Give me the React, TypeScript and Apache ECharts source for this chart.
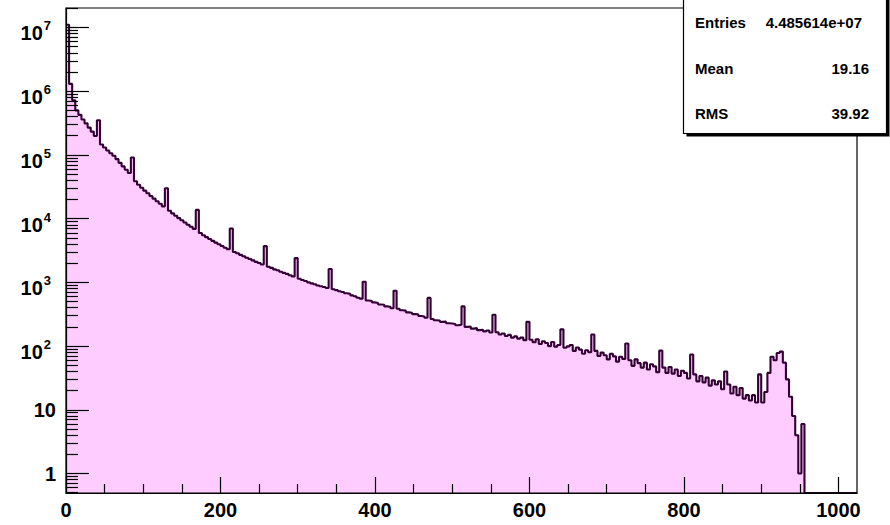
import React, { useEffect, useRef } from "react";
import * as echarts from "echarts";

// ---- data ----
const X_MIN = 0;
const X_MAX = 1024;
const BIN_WIDTH = 4;
const Y_LOG_MIN = -0.305; // ~0.5
const Y_LOG_MAX = 7.305; // ~2e7

// counts per bin (bin i covers [4i, 4i+4))
const counts = [
  11000000, 1300000, 720000, 500000, 425000, 360000, 312000, 268000, 232000, 198000,
  350000, 146000, 131000, 117000, 106000, 97000, 86000, 75000, 66000, 58500,
  52000, 91000, 38500, 34000, 30500, 27500, 25000, 22700, 20600, 18700,
  17100, 15600, 30000, 13300, 12100, 11100, 10200, 9450, 8700, 8000,
  7450, 6900, 13700, 5950, 5500, 5120, 4800, 4480, 4200, 3960,
  3720, 3500, 3310, 7000, 3000, 2860, 2700, 2570, 2430, 2330,
  2210, 2100, 2010, 1910, 3700, 1760, 1690, 1600, 1550, 1470,
  1410, 1360, 1290, 1240, 2400, 1140, 1090, 1050, 1000, 965,
  935, 895, 870, 845, 815, 1620, 780, 755, 725, 705,
  675, 660, 625, 605, 575, 555, 1020, 520, 510, 485,
  475, 450, 445, 420, 415, 392, 740, 385, 365, 360,
  338, 334, 318, 315, 296, 292, 278, 570, 266, 255,
  252, 240, 242, 228, 226, 222, 212, 216, 420, 200,
  203, 188, 192, 178, 181, 170, 176, 163, 310, 165,
  152, 158, 144, 150, 136, 142, 131, 136, 124, 240,
  126, 115, 128, 108, 119, 112, 100, 116, 98, 104,
  183, 94, 99, 104, 84, 95, 88, 76, 86, 80,
  152, 84, 70, 79, 72, 62, 76, 69, 57, 68,
  63, 110, 60, 49, 62, 54, 46, 55, 43, 52,
  48, 39, 85, 46, 38, 47, 37, 43, 34, 41,
  38, 31, 74, 36, 28, 34, 27, 32, 24, 29,
  25, 28, 21, 40, 25, 18, 23, 17, 22, 15,
  17, 14, 17, 13, 36, 13, 19, 38, 68, 60,
  78, 82, 55, 30, 16, 8, 4, 1, 6, 0,
  0, 0, 0, 0, 0, 0, 0, 0, 0, 0, 0, 0, 0, 0, 0, 0,
];

const xMajorTicks = [0, 200, 400, 600, 800, 1000];
const xMinorTicks = [50, 100, 150, 250, 300, 350, 450, 500, 550, 650, 700, 750, 850, 900, 950];
const yMajorExponents = [0, 1, 2, 3, 4, 5, 6, 7];
const yMinorMultipliers = [2, 3, 4, 5, 6, 7, 8, 9];
const yMinorExponents = [-1, 0, 1, 2, 3, 4, 5, 6, 7];

const statsNames = ["Entries", "Mean", "RMS"];
const statsValues = ["4.485614e+07", "19.16", "39.92"];

const FONT = "'Liberation Sans', Arial, Helvetica, sans-serif";

export default function App() {
  const ref = useRef<HTMLDivElement>(null);

  useEffect(() => {
    if (!ref.current) return;
    const chart = echarts.init(ref.current, undefined, { renderer: "svg" });

    const pts: number[][] = counts.map((c, i) => [
      X_MIN + i * BIN_WIDTH,
      c > 0 ? Math.log10(c) : Y_LOG_MIN,
    ]);
    const last = pts[pts.length - 1][1];
    pts.push([X_MAX, last]);

    const yMinor: number[] = [];
    yMinorExponents.forEach((e) => {
      yMinorMultipliers.forEach((m) => {
        const v = Math.log10(m) + e;
        if (v >= Y_LOG_MIN && v <= Y_LOG_MAX) yMinor.push(v);
      });
    });

    const statsRowsY = [22.5, 68.3, 113.3];
    const statsValueRight = [862, 869, 869];

    const graphics: any[] = [
      {
        type: "rect",
        shape: { x: 686.5, y: 0, width: 203, height: 136.5 },
        style: { fill: "#000" },
        z: 100,
      },
      {
        type: "rect",
        shape: { x: 683.5, y: -3, width: 203, height: 136.5 },
        style: { fill: "#fff", stroke: "#000", lineWidth: 1.2 },
        z: 101,
      },
    ];
    statsNames.forEach((n, i) => {
      graphics.push({
        type: "text",
        x: 695,
        y: statsRowsY[i],
        z: 102,
        style: {
          text: n,
          fill: "#000",
          font: `bold 15px ${FONT}`,
          textAlign: "left",
          textVerticalAlign: "middle",
        },
      });
      graphics.push({
        type: "text",
        x: statsValueRight[i],
        y: statsRowsY[i],
        z: 102,
        style: {
          text: statsValues[i],
          fill: "#000",
          font: `bold 15px ${FONT}`,
          textAlign: "right",
          textVerticalAlign: "middle",
        },
      });
    });

    const tickLine = { color: "#000", width: 1.2 };

    const option: any = {
      animation: false,
      backgroundColor: "#fff",
      grid: {
        left: 66,
        right: 33,
        top: 8,
        bottom: 32,
        show: true,
        borderColor: "#000",
        borderWidth: 1.2,
        backgroundColor: "transparent",
        z: 5,
        outerBoundsMode: "none",
      },
      xAxis: [
        {
          type: "value",
          min: X_MIN,
          max: X_MAX,
          position: "bottom",
          z: 6,
          splitLine: { show: false },
          axisLine: { show: true, onZero: false, lineStyle: tickLine },
          axisTick: {
            show: true,
            inside: true,
            length: 16,
            customValues: xMajorTicks,
            lineStyle: tickLine,
          },
          axisLabel: {
            customValues: xMajorTicks,
            formatter: (v: number) => String(Math.round(v)),
            margin: 7,
            color: "#000",
            fontSize: 20,
            fontWeight: "bold",
            fontFamily: FONT,
          },
        },
        {
          type: "value",
          min: X_MIN,
          max: X_MAX,
          position: "bottom",
          z: 6,
          splitLine: { show: false },
          axisLine: { show: false, onZero: false },
          axisTick: {
            show: true,
            inside: true,
            length: 9,
            customValues: xMinorTicks,
            lineStyle: tickLine,
          },
          axisLabel: { show: false },
        },
      ],
      yAxis: [
        {
          type: "value",
          min: Y_LOG_MIN,
          max: Y_LOG_MAX,
          position: "left",
          z: 6,
          splitLine: { show: false },
          axisLine: { show: true, onZero: false, lineStyle: tickLine },
          axisTick: {
            show: true,
            inside: true,
            length: 23,
            customValues: yMajorExponents,
            lineStyle: tickLine,
          },
          axisLabel: {
            customValues: yMajorExponents,
            margin: 10,
            color: "#000",
            formatter: (v: number) => {
              const n = Math.round(v);
              if (n === 0) return "{p|1}";
              if (n === 1) return "{p|10}";
              return `{b|10}{s|${n}}`;
            },
            rich: {
              p: { fontSize: 20, fontWeight: "bold", fontFamily: FONT, color: "#000" },
              b: {
                fontSize: 20,
                fontWeight: "bold",
                fontFamily: FONT,
                color: "#000",
                padding: [12, 0, 0, 0],
              },
              s: {
                fontSize: 13,
                fontWeight: "bold",
                fontFamily: FONT,
                color: "#000",
                padding: [8, 5, 11, 1],
              },
            },
          },
        },
        {
          type: "value",
          min: Y_LOG_MIN,
          max: Y_LOG_MAX,
          position: "left",
          z: 6,
          splitLine: { show: false },
          axisLine: { show: false, onZero: false },
          axisTick: {
            show: true,
            inside: true,
            length: 12,
            customValues: yMinor,
            lineStyle: tickLine,
          },
          axisLabel: { show: false },
        },
      ],
      series: [
        {
          type: "line",
          xAxisIndex: 0,
          yAxisIndex: 0,
          step: "end",
          data: pts,
          showSymbol: false,
          symbol: "none",
          clip: true,
          lineStyle: { color: "#330033", width: 2.1 },
          areaStyle: { color: "#ffccff", opacity: 1, origin: "start" },
          z: 2,
        },
      ],
      graphic: graphics,
    };

    chart.setOption(option);
    return () => chart.dispose();
  }, []);

  return (
    <div
      ref={ref}
      style={{ position: "absolute", left: 0, top: 0, width: 890, height: 525 }}
    />
  );
}
